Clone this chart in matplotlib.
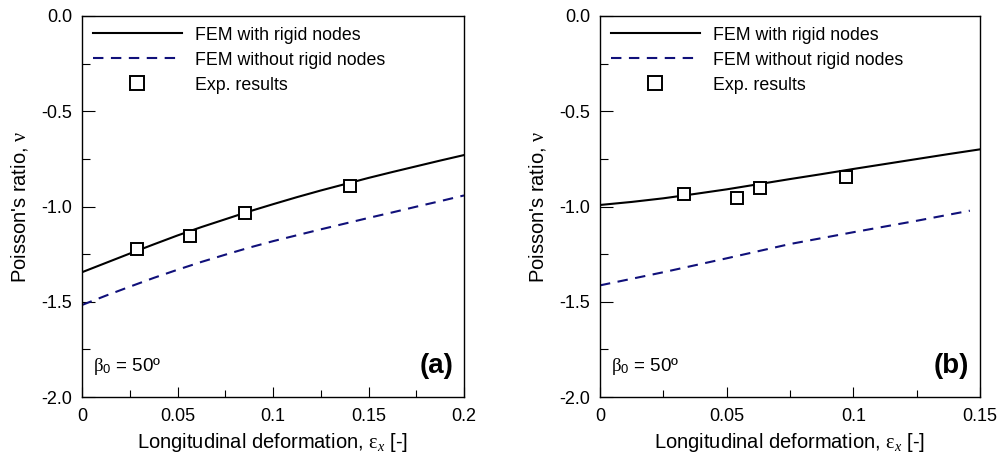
import matplotlib
matplotlib.use("Agg")
import matplotlib.pyplot as plt
from matplotlib.ticker import MultipleLocator, FuncFormatter

plt.rcParams['font.family'] = ['Liberation Sans', 'DejaVu Sans']
plt.rcParams['mathtext.fontset'] = 'custom'
plt.rcParams['mathtext.rm'] = 'Liberation Serif'
plt.rcParams['mathtext.it'] = 'Liberation Serif:italic'
plt.rcParams['mathtext.sf'] = 'Liberation Sans'

# ---- data: panel (a) ----
xa_fem = [0, 0.0125, 0.025, 0.0375, 0.05, 0.0625, 0.075, 0.0875, 0.1,
          0.1125, 0.125, 0.1375, 0.15, 0.1625, 0.175, 0.1875, 0.2]
ya_rigid = [-1.345, -1.296, -1.247, -1.199, -1.152, -1.108, -1.067, -1.026, -0.988,
            -0.951, -0.916, -0.883, -0.850, -0.819, -0.789, -0.759, -0.730]
ya_norigid = [-1.517, -1.468, -1.421, -1.375, -1.332, -1.291, -1.253, -1.216, -1.182,
              -1.151, -1.120, -1.090, -1.060, -1.031, -1.001, -0.972, -0.942]
xa_exp = [0.0286, 0.0564, 0.0853, 0.1403]
ya_exp = [-1.221, -1.153, -1.032, -0.893]

# ---- data: panel (b) ----
xb_fem = [0, 0.0125, 0.025, 0.0375, 0.05, 0.0625, 0.075, 0.0875, 0.1,
          0.1125, 0.125, 0.1375, 0.15]
yb_rigid = [-0.992, -0.976, -0.957, -0.934, -0.910, -0.883, -0.856, -0.830, -0.803,
            -0.777, -0.751, -0.725, -0.700]
xb_fem2 = [0, 0.025, 0.05, 0.075, 0.1, 0.125, 0.146]
yb_norigid = [-1.414, -1.345, -1.272, -1.197, -1.135, -1.075, -1.022]
xb_exp = [0.0330, 0.0541, 0.0630, 0.0970]
yb_exp = [-0.934, -0.954, -0.905, -0.843]

labels = ["FEM with rigid nodes", "FEM without rigid nodes", "Exp. results"]
panel_tags = ["(a)", "(b)"]
xticks_a = [0, 0.05, 0.1, 0.15, 0.2]
xticks_b = [0, 0.05, 0.1, 0.15]

fig = plt.figure(figsize=(10.01, 4.55), dpi=100)
ax1 = fig.add_axes([82/1001, 1-397/455, 382/1001, 381/455])
ax2 = fig.add_axes([600/1001, 1-397/455, 380/1001, 381/455])

navy = '#10107a'

def fmt_x(v, pos):
    s = ('%.2f' % v).rstrip('0').rstrip('.')
    return s if s else '0'

def fmt_y(v, pos):
    return '%.1f' % v

for ax, xf, yr, xf2, ynr, xe, ye, xmax, xt, tag in [
        (ax1, xa_fem, ya_rigid, xa_fem, ya_norigid, xa_exp, ya_exp, 0.2, xticks_a, panel_tags[0]),
        (ax2, xb_fem, yb_rigid, xb_fem2, yb_norigid, xb_exp, yb_exp, 0.15, xticks_b, panel_tags[1])]:
    ax.plot(xf, yr, color='black', lw=1.5, label=labels[0])
    l2, = ax.plot(xf2, ynr, color=navy, lw=1.5, label=labels[1])
    l2.set_dashes((5, 3.6))
    ax.plot(xe, ye, linestyle='none', marker='s', ms=8.5, mfc='white', mec='black',
            mew=1.4, label=labels[2])
    ax.set_xlim(0, xmax)
    ax.set_ylim(-2.0, 0.0)
    ax.set_xticks(xt)
    ax.xaxis.set_minor_locator(MultipleLocator(0.025))
    ax.yaxis.set_major_locator(MultipleLocator(0.5))
    ax.yaxis.set_minor_locator(MultipleLocator(0.25))
    ax.xaxis.set_major_formatter(FuncFormatter(fmt_x))
    ax.yaxis.set_major_formatter(FuncFormatter(fmt_y))
    ax.tick_params(axis='x', which='major', direction='in', length=7, width=0.8, labelsize=13, pad=8)
    ax.tick_params(axis='x', which='minor', direction='in', length=5, width=0.8)
    ax.tick_params(axis='y', which='major', direction='in', length=9, width=0.8, labelsize=13, pad=7)
    ax.tick_params(axis='y', which='minor', direction='in', length=6, width=0.8)
    for sp in ax.spines.values():
        sp.set_linewidth(1.0)
    ax.set_xlabel(r"Longitudinal deformation, $\mathrm{\varepsilon}_{x}$ [-]", fontsize=14.5, labelpad=4)
    ax.set_ylabel(r"Poisson's ratio, $\mathrm{\nu}$", fontsize=14.5, labelpad=8.5)
    ax.text(0.028, 0.08, r"$\mathrm{\beta}_{\mathsf{0}}$ = 50º", transform=ax.transAxes,
            fontsize=13.5, ha='left', va='center')
    ax.text(0.972, 0.082, tag, transform=ax.transAxes, fontsize=20, fontweight='bold',
            ha='right', va='center')
    leg = ax.legend(loc='upper left', bbox_to_anchor=(0.0, 1.0), frameon=False, fontsize=12.8,
                    handlelength=5.0, handletextpad=0.75, labelspacing=0.45, borderaxespad=0.2,
                    markerscale=1.15)

fig.savefig("out.png", dpi=100)
